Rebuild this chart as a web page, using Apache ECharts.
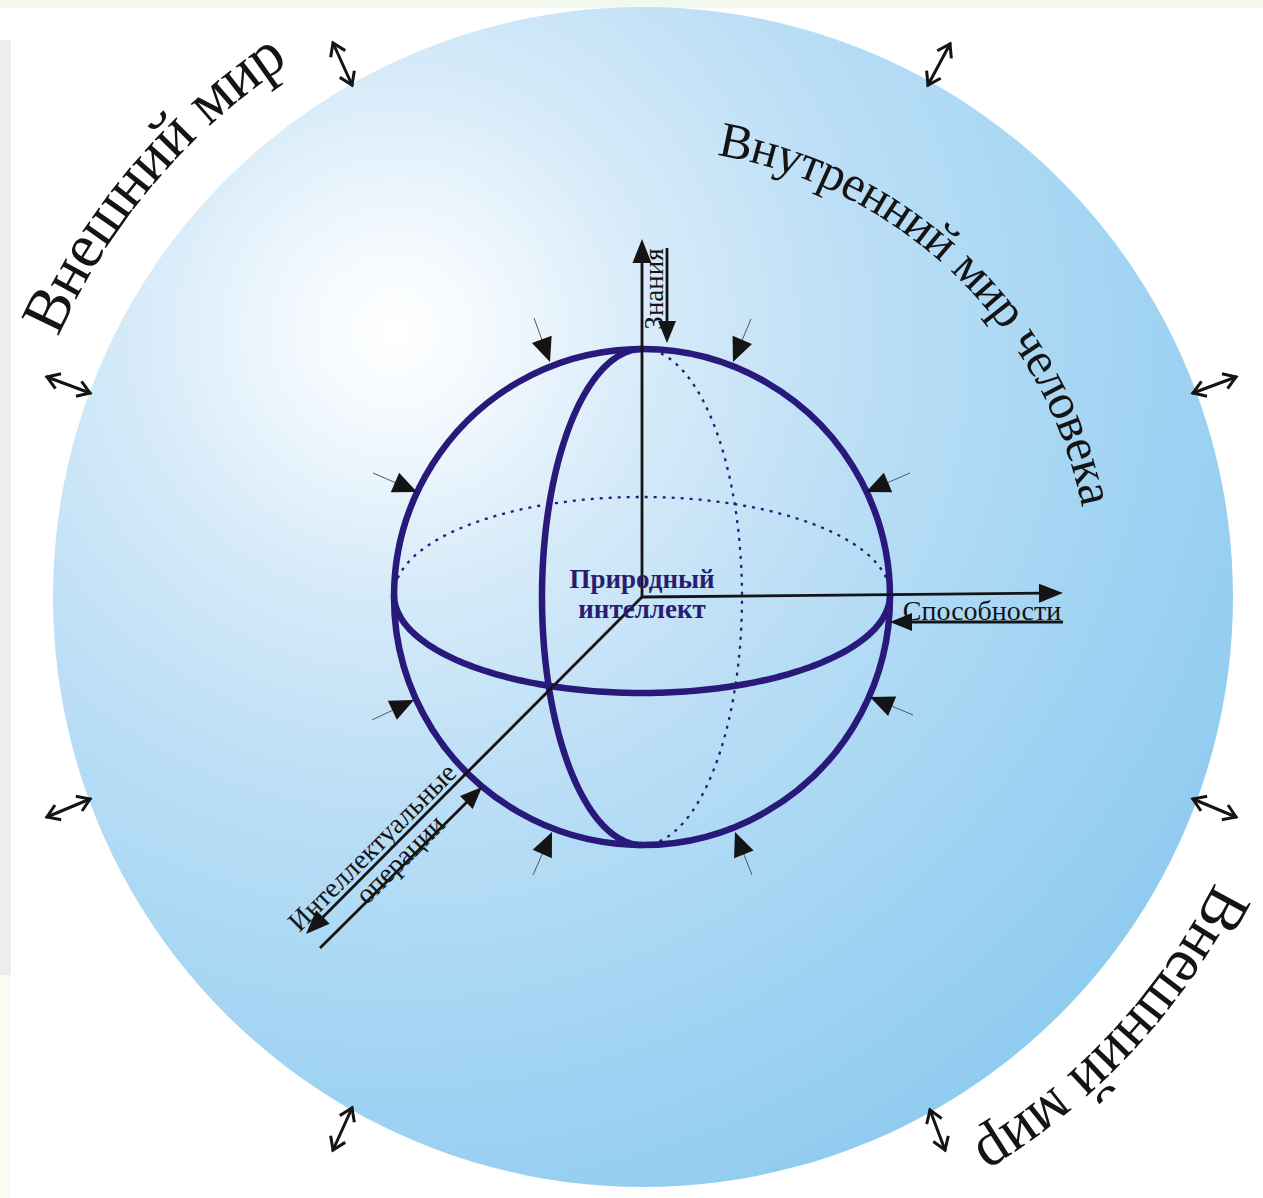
<!DOCTYPE html>
<html>
<head>
<meta charset="utf-8">
<script src="https://cdn.jsdelivr.net/npm/echarts@6/dist/echarts.min.js"></script>
<style>
html,body{margin:0;padding:0;background:#ffffff;}
#chart{width:1263px;height:1198px;}
</style>
</head>
<body>
<div id="chart"></div>
<script>
// ---------- diagram data (model units: origin = centre of the outer sphere, y up) ----------
const worldCircle     = [[0, 0, 590]];                 // cx, cy, r
const sphereCircle    = [[-1, 0, 248]];                // cx, cy, r
const equatorRing     = [[-1, 2, 248, 98]];            // cx, cy, rx, ry
const meridianRing    = [[-1, 0, 100, 248]];           // cx, cy, rx, ry
const axisArrows      = [[-1, 0, -1, 358], [-1, 0, 420, 4], [-1, 0, -337, -337]];
const returnArrows    = [[24, 349, 24, 254], [420, -25, 247, -25], [-323, -351, -161, -190]];
const inwardArrows    = [
  [-109, 279, -93, 235], [108, 278, 90, 235],
  [-270, 124, -226, 105], [267, 124, 223, 105],
  [-271, -123, -229, -103], [270, -118, 227, -100],
  [-110, -278, -91, -235], [109, -278, 92, -235]
];
const exchangeArrows  = [
  [-310, 554, -291, 512], [307, 553, 285, 512],
  [-596, 220, -553, 204], [593, 220, 550, 204],
  [-596, -220, -553, -202], [593, -220, 550, -202],
  [-310, -553, -291, -511], [302, -553, 287, -513]
];
const arcLabels       = ['Внешний мир', 'Внутренний мир человека', 'Внешний мир'];
const arcAnchors      = [[0, 0, 661, 139.8], [0, 0, 465, 46], [0, 0, 660, -42.8]]; // cx, cy, R, mid angle
const axisLabels      = ['Знания', 'Способности', 'Интеллектуальные', 'операции'];
const axisLabelAnchors= [[11, 308], [339, -13], [-271, -250], [-243, -262]];
const centerLabels    = ['Природный', 'интеллект'];
const centerAnchors   = [[-1, 18], [-1, -12]];

// ---------- styles ----------
const SERIF = '"Liberation Serif", "Times New Roman", serif';
const SPHERE = '#28197a';
const INK = '#141414';
const arcFontSizes = [63, 50, 63];
const axisLabelRot = [90, 0, 45, 45];

const mctx = document.createElement('canvas').getContext('2d');
function measure(ch, font) { mctx.font = font; return mctx.measureText(ch).width; }
function unit(a, b) { const dx = b[0] - a[0], dy = b[1] - a[1]; const l = Math.hypot(dx, dy) || 1; return [dx / l, dy / l]; }
function headPts(tip, d, L, W) {
  const bx = tip[0] - d[0] * L, by = tip[1] - d[1] * L, nx = -d[1], ny = d[0];
  return [[bx + nx * W, by + ny * W], [tip[0], tip[1]], [bx - nx * W, by - ny * W]];
}

function circleRender(fill, stroke, lw) {
  return function (params, api) {
    const c = api.coord([api.value(0), api.value(1)]);
    const r = api.size([api.value(2), 0])[0];
    return { type: 'circle', shape: { cx: c[0], cy: c[1], r: r },
      style: { fill: fill, stroke: stroke, lineWidth: lw } };
  };
}

function ellipseRender(t0, t1, dashed) {
  return function (params, api) {
    const c = api.coord([api.value(0), api.value(1)]);
    const rx = api.size([api.value(2), 0])[0];
    const ry = api.size([0, api.value(3)])[1];
    const pts = [];
    const n = 160;
    for (let k = 0; k <= n; k++) {
      const t = t0 + (t1 - t0) * k / n;
      pts.push([c[0] + rx * Math.cos(t), c[1] - ry * Math.sin(t)]);
    }
    return { type: 'polyline', shape: { points: pts },
      style: dashed
        ? { stroke: SPHERE, lineWidth: 2.3, fill: null, lineDash: [3, 6], lineCap: 'butt' }
        : { stroke: SPHERE, lineWidth: 6.5, fill: null } };
  };
}

function arrowRender(cfg) {
  return function (params, api) {
    const a = api.coord([api.value(0), api.value(1)]);
    const b = api.coord([api.value(2), api.value(3)]);
    const d = unit(a, b);
    const children = [];
    if (cfg.type === 'filled') {
      const e = [b[0] - d[0] * cfg.L * 0.8, b[1] - d[1] * cfg.L * 0.8];
      children.push({ type: 'line', shape: { x1: a[0], y1: a[1], x2: e[0], y2: e[1] },
        style: { stroke: cfg.color, lineWidth: cfg.lw } });
      children.push({ type: 'polygon', shape: { points: headPts(b, d, cfg.L, cfg.W) },
        style: { fill: cfg.head } });
    } else {
      children.push({ type: 'line', shape: { x1: a[0], y1: a[1], x2: b[0], y2: b[1] },
        style: { stroke: cfg.color, lineWidth: cfg.lw, lineCap: 'round' } });
      children.push({ type: 'polyline', shape: { points: headPts(b, d, cfg.L, cfg.W) },
        style: { stroke: cfg.color, lineWidth: cfg.lw, fill: null, lineJoin: 'miter' } });
      children.push({ type: 'polyline', shape: { points: headPts(a, [-d[0], -d[1]], cfg.L, cfg.W) },
        style: { stroke: cfg.color, lineWidth: cfg.lw, fill: null, lineJoin: 'miter' } });
    }
    return { type: 'group', children: children };
  };
}

function textItem(x, y, rot, text, size, weight, color) {
  return { type: 'text', x: x, y: y, rotation: rot,
    style: { text: text, x: 0, y: 0, fill: color, fontSize: size, fontFamily: SERIF, fontWeight: weight,
      align: 'center', verticalAlign: 'middle', textAlign: 'center', textVerticalAlign: 'middle' } };
}

function arcTextRender(params, api) {
  const i = params.dataIndex;
  const size = arcFontSizes[i];
  const c = api.coord([api.value(0), api.value(1)]);
  const R = api.size([api.value(2), 0])[0];
  const mid = api.value(3) * Math.PI / 180;
  const font = size + 'px ' + SERIF;
  const chars = Array.from(arcLabels[i]);
  const widths = chars.map(function (ch) { return measure(ch, font); });
  const total = widths.reduce(function (s, w) { return s + w; }, 0);
  const a0 = mid + (total / 2) / R;
  let s = 0;
  const children = chars.map(function (ch, k) {
    const a = a0 - (s + widths[k] / 2) / R;
    s += widths[k];
    return textItem(c[0] + R * Math.cos(a), c[1] - R * Math.sin(a), a - Math.PI / 2, ch, size, 'normal', INK);
  });
  return { type: 'group', children: children };
}

function axisLabelRender(params, api) {
  const i = params.dataIndex;
  const p = api.coord([api.value(0), api.value(1)]);
  const size = [27, 28, 28, 28][i];
  return textItem(p[0], p[1], axisLabelRot[i] * Math.PI / 180, axisLabels[i], size, 'normal', INK);
}

function centerLabelRender(params, api) {
  const i = params.dataIndex;
  const p = api.coord([api.value(0), api.value(1)]);
  return textItem(p[0], p[1], 0, centerLabels[i], 27, 'bold', '#2a1d70');
}

const skyGradient = new echarts.graphic.RadialGradient(0.29, 0.275, 0.86, [
  { offset: 0, color: '#ffffff' },
  { offset: 0.08, color: '#f5fafe' },
  { offset: 0.25, color: '#d7ebf9' },
  { offset: 0.45, color: '#bddff6' },
  { offset: 0.7, color: '#a4d5f3' },
  { offset: 1, color: '#8ac9ef' }
]);

function custom(name, data, renderItem, z) {
  return { type: 'custom', name: name, data: data, renderItem: renderItem, z: z,
    silent: true, clip: false, encode: { x: 0, y: 1 }, animation: false };
}

const chart = echarts.init(document.getElementById('chart'), null, { renderer: 'svg', width: 1263, height: 1198 });
chart.setOption({
  backgroundColor: '#ffffff',
  animation: false,
  graphic: [
    { type: 'rect', z: -10, shape: { x: 0, y: 0, width: 1263, height: 8 }, style: { fill: '#f3f8ee' }, silent: true },
    { type: 'rect', z: -10, shape: { x: 0, y: 40, width: 11, height: 935 }, style: { fill: '#eceeec' }, silent: true },
    { type: 'rect', z: -10, shape: { x: 0, y: 975, width: 11, height: 223 }, style: { fill: '#fafbf1' }, silent: true }
  ],
  grid: { left: 0, right: 0, top: 0, bottom: 0 },
  xAxis: { type: 'value', min: -643, max: 620, show: false },
  yAxis: { type: 'value', min: -601, max: 597, show: false },
  series: [
    custom('world', worldCircle, circleRender(skyGradient, null, 0), 1),
    custom('equatorBack', equatorRing, ellipseRender(0, Math.PI, true), 2),
    custom('meridianBack', meridianRing, ellipseRender(-Math.PI / 2, Math.PI / 2, true), 2),
    custom('sphere', sphereCircle, circleRender(null, SPHERE, 6.5), 3),
    custom('equatorFront', equatorRing, ellipseRender(Math.PI, 2 * Math.PI, false), 3),
    custom('meridianFront', meridianRing, ellipseRender(Math.PI / 2, 3 * Math.PI / 2, false), 3),
    custom('axes', axisArrows, arrowRender({ type: 'filled', color: INK, head: INK, lw: 2.8, L: 24, W: 9.5 }), 4),
    custom('returns', returnArrows, arrowRender({ type: 'filled', color: INK, head: INK, lw: 2.8, L: 22, W: 9 }), 4),
    custom('inward', inwardArrows, arrowRender({ type: 'filled', color: '#555555', head: INK, lw: 1, L: 24, W: 10.5 }), 4),
    custom('exchange', exchangeArrows, arrowRender({ type: 'double', color: INK, lw: 3, L: 12, W: 8 }), 4),
    custom('arcLabels', arcAnchors, arcTextRender, 5),
    custom('axisLabels', axisLabelAnchors, axisLabelRender, 5),
    custom('centerLabels', centerAnchors, centerLabelRender, 5)
  ]
});
</script>
</body>
</html>
